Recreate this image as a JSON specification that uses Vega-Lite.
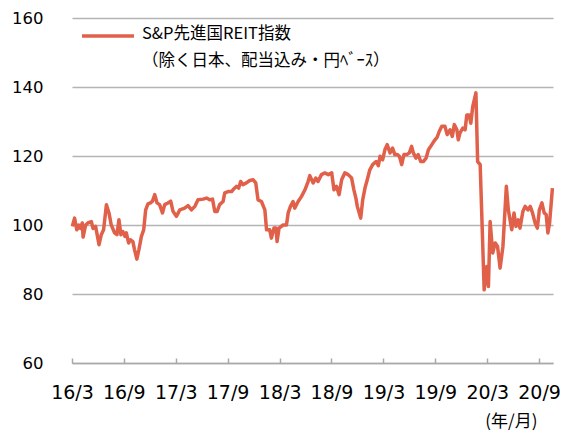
{
  "$schema": "https://vega.github.io/schema/vega-lite/v6.json",
  "width": 481,
  "height": 345,
  "autosize": "none",
  "padding": {"left": 72, "top": 18, "right": 9, "bottom": 74},
  "background": "white",
  "config": {"view": {"stroke": null}},
  "data": {"values": [
    {"date": "2016-03-28", "value": 99.6}, {"date": "2016-04-05", "value": 102}, {"date": "2016-04-13", "value": 98.6},
    {"date": "2016-04-20", "value": 100}, {"date": "2016-04-26", "value": 99}, {"date": "2016-05-02", "value": 100.6},
    {"date": "2016-05-05", "value": 96.5}, {"date": "2016-05-14", "value": 100}, {"date": "2016-05-22", "value": 100.6},
    {"date": "2016-06-03", "value": 101}, {"date": "2016-06-09", "value": 99}, {"date": "2016-06-18", "value": 99.6},
    {"date": "2016-06-30", "value": 94.3}, {"date": "2016-07-08", "value": 97.2}, {"date": "2016-07-16", "value": 98.6},
    {"date": "2016-07-26", "value": 105.9}, {"date": "2016-08-04", "value": 103.5}, {"date": "2016-08-12", "value": 100},
    {"date": "2016-08-24", "value": 97.7}, {"date": "2016-09-01", "value": 97.2}, {"date": "2016-09-08", "value": 101.5},
    {"date": "2016-09-15", "value": 97.2}, {"date": "2016-09-22", "value": 98.1}, {"date": "2016-09-29", "value": 96.7},
    {"date": "2016-10-04", "value": 97.7}, {"date": "2016-10-12", "value": 94.8}, {"date": "2016-10-19", "value": 95.7},
    {"date": "2016-10-27", "value": 95.2}, {"date": "2016-11-02", "value": 92.8}, {"date": "2016-11-10", "value": 90.1},
    {"date": "2016-11-17", "value": 92.8}, {"date": "2016-11-26", "value": 96.7}, {"date": "2016-12-04", "value": 98.6},
    {"date": "2016-12-11", "value": 104.4}, {"date": "2016-12-19", "value": 106.1}, {"date": "2016-12-28", "value": 106.4},
    {"date": "2017-01-04", "value": 106.9}, {"date": "2017-01-12", "value": 108.8}, {"date": "2017-01-20", "value": 106.4},
    {"date": "2017-01-29", "value": 105.9}, {"date": "2017-02-08", "value": 103.5}, {"date": "2017-02-16", "value": 105.9},
    {"date": "2017-02-27", "value": 106.4}, {"date": "2017-03-09", "value": 106.9}, {"date": "2017-03-17", "value": 104},
    {"date": "2017-03-29", "value": 102.5}, {"date": "2017-04-10", "value": 104.4}, {"date": "2017-04-27", "value": 104.9},
    {"date": "2017-05-09", "value": 105.6}, {"date": "2017-05-21", "value": 104.4}, {"date": "2017-06-02", "value": 105.4},
    {"date": "2017-06-13", "value": 107.3}, {"date": "2017-07-01", "value": 107.5}, {"date": "2017-07-13", "value": 107.8},
    {"date": "2017-07-24", "value": 107.3}, {"date": "2017-08-03", "value": 107.5}, {"date": "2017-08-11", "value": 103.9},
    {"date": "2017-08-19", "value": 103.9}, {"date": "2017-08-28", "value": 105.9}, {"date": "2017-09-09", "value": 106.8},
    {"date": "2017-09-15", "value": 109.3}, {"date": "2017-09-27", "value": 109.7}, {"date": "2017-10-09", "value": 109.7},
    {"date": "2017-10-14", "value": 110.2}, {"date": "2017-10-26", "value": 111.2}, {"date": "2017-11-03", "value": 110.7},
    {"date": "2017-11-10", "value": 112.6}, {"date": "2017-11-18", "value": 111.7}, {"date": "2017-11-30", "value": 112.2},
    {"date": "2017-12-12", "value": 112.9}, {"date": "2017-12-24", "value": 113.1}, {"date": "2018-01-02", "value": 112.2},
    {"date": "2018-01-10", "value": 107.3}, {"date": "2018-01-22", "value": 106.8}, {"date": "2018-02-03", "value": 104.4},
    {"date": "2018-02-09", "value": 98.6}, {"date": "2018-02-20", "value": 98.6}, {"date": "2018-02-26", "value": 96.2},
    {"date": "2018-03-07", "value": 99.1}, {"date": "2018-03-14", "value": 99.1}, {"date": "2018-03-18", "value": 95.2},
    {"date": "2018-03-25", "value": 99.1}, {"date": "2018-04-08", "value": 100}, {"date": "2018-04-20", "value": 100},
    {"date": "2018-04-26", "value": 103.5}, {"date": "2018-05-04", "value": 105.4}, {"date": "2018-05-13", "value": 106.8},
    {"date": "2018-05-19", "value": 104.9}, {"date": "2018-05-31", "value": 106.8}, {"date": "2018-06-12", "value": 108.3},
    {"date": "2018-06-24", "value": 110.2}, {"date": "2018-07-05", "value": 112.6}, {"date": "2018-07-11", "value": 114.3},
    {"date": "2018-07-23", "value": 112.2}, {"date": "2018-08-01", "value": 113.6}, {"date": "2018-08-09", "value": 112.6},
    {"date": "2018-08-21", "value": 114.6}, {"date": "2018-09-02", "value": 115.1}, {"date": "2018-09-14", "value": 114.6},
    {"date": "2018-09-26", "value": 115.1}, {"date": "2018-10-04", "value": 110.2}, {"date": "2018-10-13", "value": 111.2},
    {"date": "2018-10-22", "value": 108.8}, {"date": "2018-10-31", "value": 113.1}, {"date": "2018-11-11", "value": 115.1},
    {"date": "2018-11-23", "value": 114.6}, {"date": "2018-12-05", "value": 113.6}, {"date": "2018-12-13", "value": 110.2},
    {"date": "2018-12-20", "value": 107.8}, {"date": "2018-12-25", "value": 105.4}, {"date": "2019-01-06", "value": 102},
    {"date": "2019-01-13", "value": 107.3}, {"date": "2019-01-21", "value": 110.7}, {"date": "2019-01-29", "value": 113.1},
    {"date": "2019-02-07", "value": 116}, {"date": "2019-02-17", "value": 117.5}, {"date": "2019-03-01", "value": 118.4},
    {"date": "2019-03-09", "value": 117.2}, {"date": "2019-03-15", "value": 119.9}, {"date": "2019-03-24", "value": 118.9},
    {"date": "2019-04-01", "value": 121.8}, {"date": "2019-04-09", "value": 123.3}, {"date": "2019-04-19", "value": 120.9},
    {"date": "2019-04-28", "value": 122.3}, {"date": "2019-05-06", "value": 120.4}, {"date": "2019-05-15", "value": 120.4},
    {"date": "2019-05-22", "value": 119.9}, {"date": "2019-05-30", "value": 117.5}, {"date": "2019-06-07", "value": 120.4},
    {"date": "2019-06-17", "value": 120.4}, {"date": "2019-06-26", "value": 120.9}, {"date": "2019-07-04", "value": 122.8},
    {"date": "2019-07-10", "value": 120.9}, {"date": "2019-07-19", "value": 119.4}, {"date": "2019-07-27", "value": 120.4},
    {"date": "2019-08-05", "value": 118.4}, {"date": "2019-08-14", "value": 118.4}, {"date": "2019-08-24", "value": 119.4},
    {"date": "2019-09-01", "value": 121.8}, {"date": "2019-09-13", "value": 123.3}, {"date": "2019-09-24", "value": 124.7},
    {"date": "2019-10-02", "value": 125.5}, {"date": "2019-10-09", "value": 127.1}, {"date": "2019-10-18", "value": 128.6},
    {"date": "2019-10-29", "value": 128.6}, {"date": "2019-11-06", "value": 126.2}, {"date": "2019-11-16", "value": 127.6},
    {"date": "2019-11-24", "value": 125.7}, {"date": "2019-12-01", "value": 129.1}, {"date": "2019-12-10", "value": 127.6},
    {"date": "2019-12-15", "value": 124.7}, {"date": "2019-12-21", "value": 126.7}, {"date": "2019-12-31", "value": 128.1},
    {"date": "2020-01-08", "value": 127.6}, {"date": "2020-01-14", "value": 131.9}, {"date": "2020-01-22", "value": 131.9},
    {"date": "2020-01-28", "value": 129.5}, {"date": "2020-02-04", "value": 134.4}, {"date": "2020-02-15", "value": 138.3},
    {"date": "2020-02-21", "value": 118.4}, {"date": "2020-03-01", "value": 117.5}, {"date": "2020-03-15", "value": 81.2},
    {"date": "2020-03-24", "value": 88}, {"date": "2020-03-30", "value": 82.2}, {"date": "2020-04-05", "value": 101},
    {"date": "2020-04-14", "value": 91.9}, {"date": "2020-04-23", "value": 94.8}, {"date": "2020-05-01", "value": 93.8},
    {"date": "2020-05-10", "value": 87.5}, {"date": "2020-05-20", "value": 93.8}, {"date": "2020-06-01", "value": 111.2},
    {"date": "2020-06-08", "value": 104.4}, {"date": "2020-06-20", "value": 98.6}, {"date": "2020-06-28", "value": 103.5},
    {"date": "2020-07-05", "value": 99.6}, {"date": "2020-07-13", "value": 101.5}, {"date": "2020-07-19", "value": 99.1},
    {"date": "2020-07-29", "value": 103.9}, {"date": "2020-08-06", "value": 105.4}, {"date": "2020-08-16", "value": 104.4},
    {"date": "2020-08-24", "value": 105.4}, {"date": "2020-09-01", "value": 103.5}, {"date": "2020-09-10", "value": 100.6},
    {"date": "2020-09-18", "value": 99.1}, {"date": "2020-09-25", "value": 104.4}, {"date": "2020-10-04", "value": 106.4},
    {"date": "2020-10-12", "value": 103.5}, {"date": "2020-10-19", "value": 103}, {"date": "2020-10-25", "value": 97.7},
    {"date": "2020-10-31", "value": 100.6}, {"date": "2020-11-10", "value": 110.7}
  ]},
  "mark": {"type": "line", "strokeWidth": 3.5, "strokeJoin": "round"},
  "encoding": {
    "x": {
      "field": "date", "type": "temporal",
      "scale": {"domain": [{"year": 2016, "month": 3, "date": 27}, {"year": 2020, "month": 11, "date": 12}]},
      "axis": {
        "values": [
          {"year": 2016, "month": 3, "date": 27}, {"year": 2016, "month": 9, "date": 25},
          {"year": 2017, "month": 3, "date": 27}, {"year": 2017, "month": 9, "date": 25},
          {"year": 2018, "month": 3, "date": 27}, {"year": 2018, "month": 9, "date": 25},
          {"year": 2019, "month": 3, "date": 27}, {"year": 2019, "month": 9, "date": 25},
          {"year": 2020, "month": 3, "date": 26}, {"year": 2020, "month": 9, "date": 24}
        ],
        "format": "%y/%-m",
        "grid": false,
        "domainColor": "#a9a9a9", "domainWidth": 1.5,
        "tickColor": "#a9a9a9", "tickWidth": 1.5, "tickSize": -5,
        "labelFont": "DejaVu Sans", "labelFontSize": 19, "labelColor": "#000000",
        "labelPadding": 25, "labelFlush": false, "labelOverlap": false, "labelBound": false,
        "title": "(年/月)",
        "titleFont": "Noto Sans CJK JP", "titleFontSize": 17, "titleFontWeight": "normal", "titleColor": "#000000",
        "titleAlign": "right", "titleAnchor": "end", "titleBaseline": "middle",
        "titleX": 465, "titleY": 58
      }
    },
    "y": {
      "field": "value", "type": "quantitative",
      "scale": {"domain": [60, 160], "nice": false},
      "axis": {
        "values": [60, 80, 100, 120, 140, 160],
        "domain": false, "ticks": false, "tickSize": 0,
        "grid": true, "gridColor": "#b4b4b4", "gridWidth": 1.5,
        "labelFont": "DejaVu Sans", "labelFontSize": 16.5, "labelColor": "#000000",
        "labelPadding": 29,
        "title": null
      }
    },
    "stroke": {
      "datum": "S&P先進国REIT指数",
      "scale": {"range": ["#E0604A"]},
      "legend": {
        "orient": "none", "legendX": 8, "legendY": -10,
        "title": null,
        "symbolType": "stroke", "symbolSize": 2700, "symbolStrokeWidth": 3.5,
        "labelFont": "Noto Sans CJK JP", "labelFontSize": 16.5, "labelColor": "#000000",
        "labelOffset": 6, "labelLimit": 0, "labelBaseline": "top",
        "labelExpr": "['S&P先進国REIT指数', '（除く日本、配当込み・円ﾍﾞｰｽ）']",
        "encode": {"labels": {"update": {"lineHeight": {"value": 27}, "dy": {"value": -10}}}}
      }
    }
  }
}
